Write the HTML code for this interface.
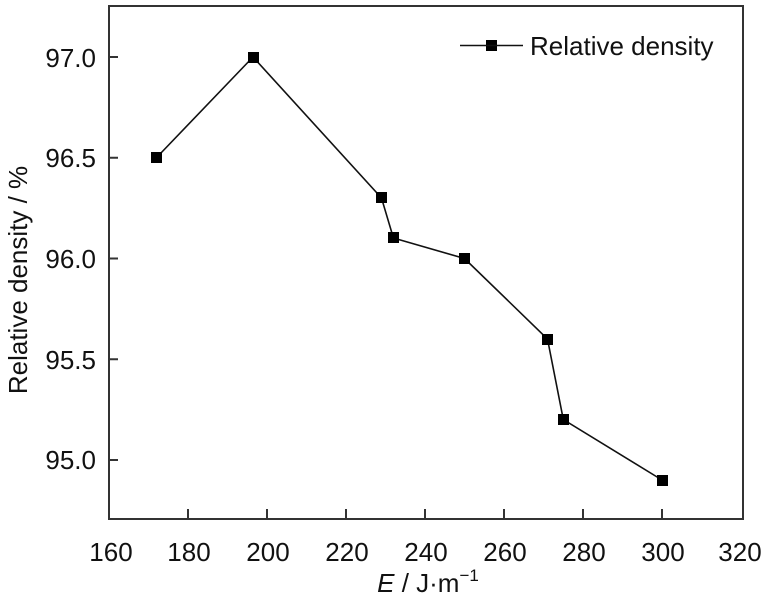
<!DOCTYPE html>
<html><head><style>body{margin:0;background:#fff}</style></head><body>
<svg width="768" height="600" xmlns="http://www.w3.org/2000/svg" font-family="Liberation Sans, Arial, sans-serif">
<rect x="109" y="6" width="634" height="513" fill="none" stroke="#333" stroke-width="2"/>
<g stroke="#333" stroke-width="2">
<line x1="188" y1="519" x2="188" y2="509"/><line x1="267" y1="519" x2="267" y2="509"/>
<line x1="346" y1="519" x2="346" y2="509"/><line x1="425" y1="519" x2="425" y2="509"/>
<line x1="504" y1="519" x2="504" y2="509"/><line x1="583" y1="519" x2="583" y2="509"/>
<line x1="662" y1="519" x2="662" y2="509"/>
<line x1="109" y1="57" x2="118" y2="57"/><line x1="109" y1="157.75" x2="118" y2="157.75"/>
<line x1="109" y1="258.5" x2="118" y2="258.5"/><line x1="109" y1="359.25" x2="118" y2="359.25"/>
<line x1="109" y1="460" x2="118" y2="460"/>
</g>
<g font-size="26" fill="#111" text-anchor="middle">
<text x="111" y="561">160</text><text x="189" y="561">180</text><text x="268" y="561">200</text>
<text x="347" y="561">220</text><text x="426" y="561">240</text><text x="505" y="561">260</text>
<text x="584" y="561">280</text><text x="663" y="561">300</text><text x="740" y="561">320</text>
</g>
<g font-size="26" fill="#111" text-anchor="end">
<text x="96" y="67">97.0</text><text x="96" y="167">96.5</text><text x="96" y="268">96.0</text>
<text x="96" y="369">95.5</text><text x="96" y="469">95.0</text>
</g>
<text x="27" y="280" font-size="26" fill="#111" text-anchor="middle" transform="rotate(-90 27 280)">Relative density / %</text>
<text x="428" y="592" font-size="26" fill="#111" text-anchor="middle"><tspan font-style="italic">E</tspan> / J·m<tspan font-size="17" dy="-11">−1</tspan></text>
<polyline fill="none" stroke="#111" stroke-width="1.6" points="156.4,157.75 253,57 381.5,198 393.4,238 464.5,258.5 547.5,339 563.3,419.5 662,480"/>
<g fill="#000">
<rect x="151" y="152" width="11" height="11"/><rect x="248" y="52" width="11" height="11"/>
<rect x="376" y="192" width="11" height="11"/><rect x="388" y="232" width="11" height="11"/>
<rect x="459" y="253" width="11" height="11"/><rect x="542" y="334" width="11" height="11"/>
<rect x="558" y="414" width="11" height="11"/><rect x="657" y="475" width="11" height="11"/>
<rect x="486" y="40" width="11" height="11"/>
</g>
<line x1="460" y1="45.5" x2="523" y2="45.5" stroke="#111" stroke-width="1.6"/>
<text x="530" y="55" font-size="26" fill="#111">Relative density</text>
</svg>
</body></html>
